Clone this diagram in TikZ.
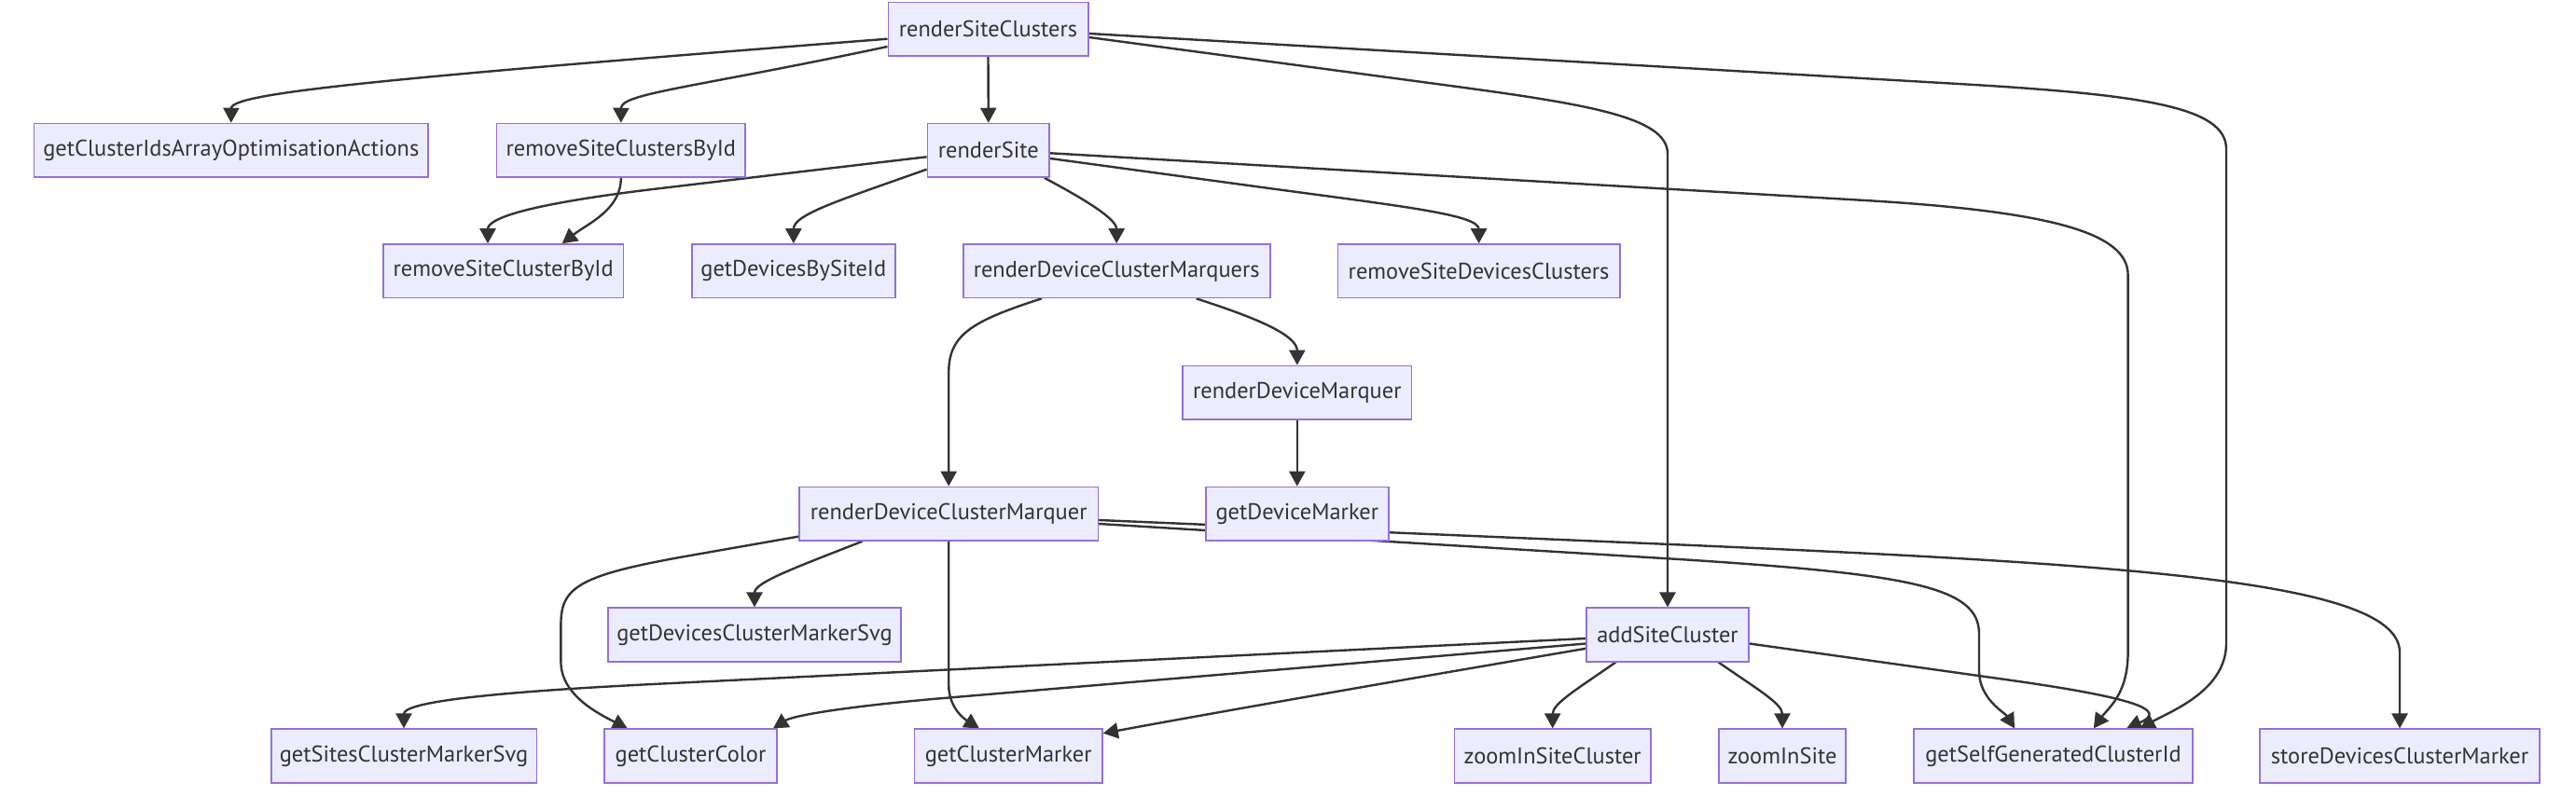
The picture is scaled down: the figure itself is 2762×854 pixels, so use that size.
\documentclass[tikz,border=0pt]{standalone}
\usepackage{fontspec}
\setmainfont{PT Sans}
\usetikzlibrary{arrows.meta,calc}
\definecolor{nodefill}{HTML}{ECECFF}
\definecolor{nodeborder}{HTML}{9370DB}
\definecolor{edgecol}{HTML}{333333}
\definecolor{txtcol}{HTML}{333333}
\pgfdeclarelayer{background}
\pgfsetlayers{background,main}
\tikzset{
  fbox/.style={draw=nodeborder, fill=nodefill, line width=0.8pt, minimum height=28.75pt,
    inner sep=0pt, text=txtcol, font=\fontsize{12.2}{14}\selectfont},
  edge/.style={draw=edgecol, line width=1.2pt, -{Triangle[length=8pt,width=8.5pt]}}
}
\begin{document}
\begin{tikzpicture}[x=0.5pt,y=-0.5pt]
\useasboundingbox (0,0) rectangle (2762,854);
% nodes
\node[fbox, minimum width=107.2pt] (rSC) at (1059.5,31.3) {renderSiteClusters};
\node[fbox, minimum width=211.4pt] (gca) at (247.8,161.3) {getClusterIdsArrayOptimisationActions};
\node[fbox, minimum width=133.3pt] (rSCBI) at (665.8,161.3) {removeSiteClustersById};
\node[fbox, minimum width=65.4pt] (rS) at (1059.8,161.3) {renderSite};
\node[fbox, minimum width=128.9pt] (rSCB) at (539.6,290.8) {removeSiteClusterById};
\node[fbox, minimum width=109.1pt] (gdbs) at (850.8,290.8) {getDevicesBySiteId};
\node[fbox, minimum width=164.5pt] (rDCMs) at (1197.2,290.8) {renderDeviceClusterMarquers};
\node[fbox, minimum width=151.2pt] (rSDC) at (1585.6,290.8) {removeSiteDevicesClusters};
\node[fbox, minimum width=122.8pt] (rDM) at (1390.8,421.2) {renderDeviceMarquer};
\node[fbox, minimum width=160.2pt] (rDCM) at (1017.2,551.2) {renderDeviceClusterMarquer};
\node[fbox, minimum width=97.9pt] (gDM) at (1390.8,551.2) {getDeviceMarker};
\node[fbox, minimum width=157.2pt] (gDCMS) at (809,681) {getDevicesClusterMarkerSvg};
\node[fbox, minimum width=87pt] (asc) at (1788,681) {addSiteCluster};
\node[fbox, minimum width=142.3pt] (gSCMS) at (433,811) {getSitesClusterMarkerSvg};
\node[fbox, minimum width=92.5pt] (gcc) at (740.5,811) {getClusterColor};
\node[fbox, minimum width=100.8pt] (gCM) at (1081.2,811) {getClusterMarker};
\node[fbox, minimum width=105.3pt] (zISC) at (1664.7,811) {zoomInSiteCluster};
\node[fbox, minimum width=68pt] (zIS) at (1911,811) {zoomInSite};
\node[fbox, minimum width=149.5pt] (gsgci) at (2201.5,811) {getSelfGeneratedClusterId};
\node[fbox, minimum width=149.9pt] (sdcm) at (2573,811) {storeDevicesClusterMarker};
% edges
\begin{pgfonlayer}{background}
\draw[edge] ($(rSC.west)+(0,10.4)$) .. controls (400,85) and (248,100) .. (gca.north);
\draw[edge] ($(rSC.west)+(0,18.7)$) .. controls (740,95) and (666,100) .. (rSCBI.north);
\draw[edge] (rSC.south) -- (rS.north);
\draw[edge] ($(rSC.east)+(0,8.7)$) -- (1540,90) .. controls (1700,111.4) and (1788,125) .. (1788,165) -- (asc.north);
\draw[edge] ($(rSC.east)+(0,4.7)$) -- (2100,90) .. controls (2300,101.6) and (2387,115) .. (2387,160) -- (2387,690) .. controls (2387,740) and (2330,762) .. ($(gsgci.north)+(93,0)$);
\draw[edge] (rSCBI.south) .. controls (666,225) and (630,240) .. ($(rSCB.north)+(63.1,0)$);
\draw[edge] ($(rS.west)+(0,7)$) -- (700,203) .. controls (560,220) and (523,235) .. ($(rSCB.north)+(-16.6,0)$);
\draw[edge] ($(rS.west)+(0,20.4)$) .. controls (900,215) and (850.8,230) .. (gdbs.north);
\draw[edge] ($(rS.south)+(60,0)$) .. controls (1165,215) and (1197.2,235) .. (rDCMs.north);
\draw[edge] ($(rS.east)+(0,8.7)$) -- (1346,200) .. controls (1500,221) and (1585.6,230) .. (rSDC.north);
\draw[edge] ($(rS.east)+(0,3)$) -- (2000,215) .. controls (2200,227) and (2281.6,250) .. (2281.6,295) -- (2281.6,700) .. controls (2281.6,745) and (2260,760) .. ($(gsgci.north)+(43.3,0)$);
\draw[edge] ($(rDCMs.south)+(-80.4,0)$) .. controls (1040,345) and (1017.2,360) .. (1017.2,400) -- (rDCM.north);
\draw[edge] ($(rDCMs.south)+(85.5,0)$) .. controls (1350,342) and (1390.8,360) .. (rDM.north);
\draw[edge] (rDM.south) -- (gDM.north);
\draw[edge] ($(rDCM.west)+(0,24.4)$) -- (740,596) .. controls (620,617) and (601.4,630) .. (601.4,670) -- (601.4,710) .. controls (601.4,745) and (640,765) .. ($(gcc.north)+(-67.7,0)$);
\draw[edge] ($(rDCM.south)+(-92.5,0)$) .. controls (850,610) and (809,625) .. (gDCMS.north);
\draw[edge] (rDCM.south) -- (1017.2,735) .. controls (1017.2,760) and (1035,772) .. ($(gCM.north)+(-31.3,0)$);
\draw[edge] ($(rDCM.east)+(0,10.8)$) -- (1800,600) .. controls (2050,616) and (2122,630) .. (2122,680) -- (2122,720) .. controls (2122,750) and (2150,765) .. ($(gsgci.north)+(-41.5,0)$);
\draw[edge] ($(rDCM.east)+(0,6.8)$) -- (1800,584.4) .. controls (2300,606) and (2573,625) .. (2573,700) -- (sdcm.north);
\draw[edge] ($(asc.west)+(0,4)$) -- (700,734) .. controls (500,744) and (433,755) .. (gSCMS.north);
\draw[edge] ($(asc.west)+(0,9.5)$) -- (1000,750) .. controls (900,759) and (850,768) .. ($(gcc.north)+(88.5,0)$);
\draw[edge] ($(asc.west)+(0,14.8)$) .. controls (1500,730) and (1300,765) .. ($(gCM.north east)+(0,5.3)$);
\draw[edge] ($(asc.south)+(-55.7,0)$) .. controls (1690,740) and (1664.7,755) .. (zISC.north);
\draw[edge] ($(asc.south)+(54.6,0)$) .. controls (1885,740) and (1911,755) .. (zIS.north);
\draw[edge] ($(asc.east)+(0,9.5)$) -- (2150,729) .. controls (2290,748.6) and (2325,762) .. ($(gsgci.north)+(78.5,0)$);
\end{pgfonlayer}
\end{tikzpicture}
\end{document}
